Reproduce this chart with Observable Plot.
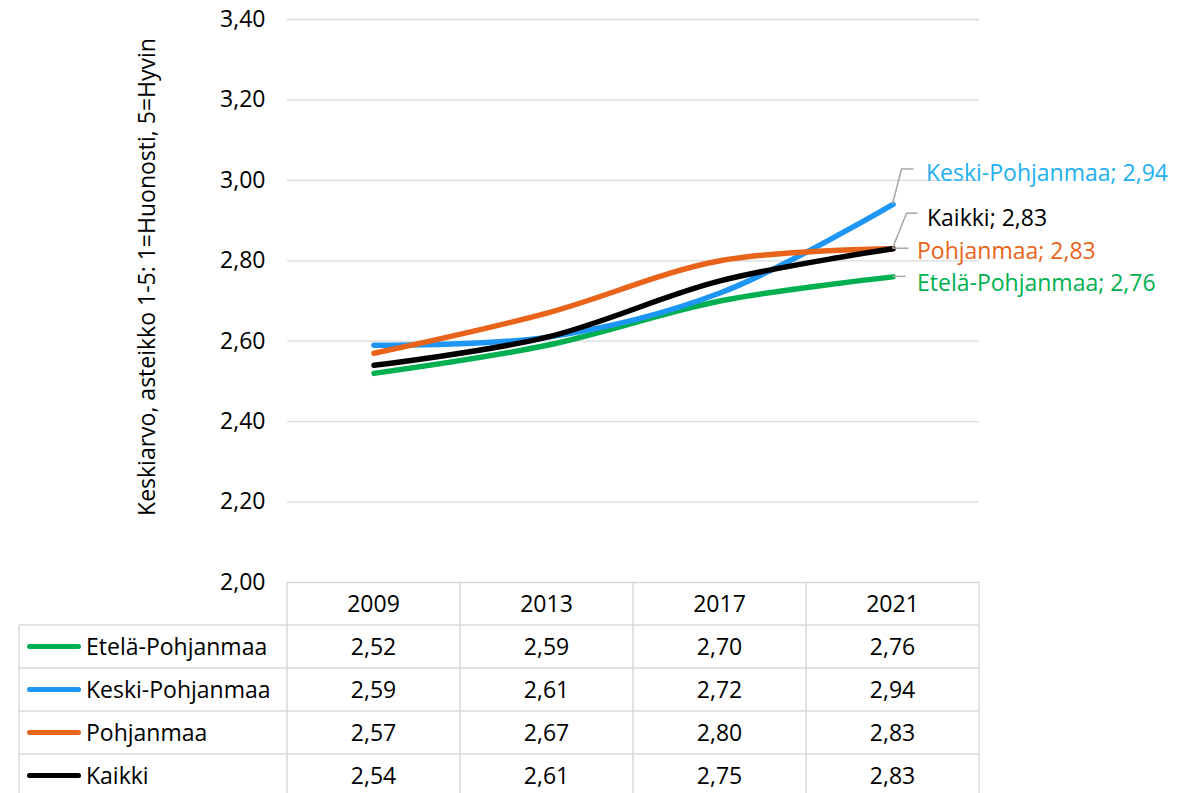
<!DOCTYPE html>
<html><head><meta charset="utf-8">
<script src="https://cdn.jsdelivr.net/npm/d3@7"></script>
<script src="https://cdn.jsdelivr.net/npm/@observablehq/plot@0.6"></script>
<style>body{margin:0;background:#fff} #chart svg{display:block}</style>
</head><body><div id="chart"></div>
<script>
const years = ["2009","2013","2017","2021"];
const seriesNames = ["Etelä-Pohjanmaa","Keski-Pohjanmaa","Pohjanmaa","Kaikki"];
const etelaPohjanmaa = [2.52,2.59,2.70,2.76];
const keskiPohjanmaa = [2.59,2.61,2.72,2.94];
const pohjanmaa = [2.57,2.67,2.80,2.83];
const kaikki = [2.54,2.61,2.75,2.83];
const seriesColors = ["#00b050","#1e96f5","#e8641b","#000000"];
const labelColors = ["#00b050","#22b0f0","#e8641b","#000000"];
const yTicks = [2.0,2.2,2.4,2.6,2.8,3.0,3.2,3.4];
const yLabel = "Keskiarvo, asteikko 1-5: 1=Huonosti, 5=Hyvin";

const values = [etelaPohjanmaa, keskiPohjanmaa, pohjanmaa, kaikki];
const fmt = v => v.toFixed(2).replace(".", ",");
const rows = [];
seriesNames.forEach((s, i) => years.forEach((yr, j) => rows.push({series: s, year: yr, value: values[i][j]})));
const ends = seriesNames.map((s, i) => ({series: s, year: years[years.length-1], value: values[i][values[i].length-1], color: labelColors[i]}));
// label placement offsets (style only)
const labelOffsets = {"Etelä-Pohjanmaa":[24,6.5], "Keski-Pohjanmaa":[33,-31], "Pohjanmaa":[24,2.5], "Kaikki":[34,-30]};
const leaderPaths = {"Etelä-Pohjanmaa":[[0,0],[13,0]], "Keski-Pohjanmaa":[[0,0],[9,-35],[21,-35]], "Pohjanmaa":[[0,0],[16,0]], "Kaikki":[[0,0],[14,-35],[25,-35]]};

const FONT = "'Open Sans', 'Noto Sans', sans-serif";
const FS = 23;
const grid = "#d9d9d9";

const chart = Plot.plot({
  width: 1199, height: 793,
  marginLeft: 287, marginRight: 220, marginTop: 19, marginBottom: 211,
  style: {fontFamily: FONT, fontSize: FS + "px", color: "#000", background: "#fff"},
  x: {type: "band", domain: years, padding: 0, axis: null},
  y: {domain: [2.0, 3.4], axis: null},
  color: {domain: seriesNames, range: seriesColors},
  marks: [
    Plot.ruleY(yTicks, {stroke: grid, strokeWidth: 1.3}),
    Plot.axisY({ticks: yTicks, tickFormat: fmt, tickSize: 0, tickPadding: 22, fontSize: FS, fill: "#000", label: null}),
    Plot.text([yLabel], {frameAnchor: "left", textAnchor: "middle", dx: -140, dy: -24, rotate: -90, fontSize: FS, fill: "#000"}),
    Plot.line(rows, {x: "year", y: "value", z: "series", stroke: "series", strokeWidth: 5.5, curve: "catmull-rom", strokeLinecap: "round"}),
    ...ends.map(e => Plot.text([e], {x: "year", y: "value", text: d => `${d.series}; ${fmt(d.value)}`, fill: e.color, textAnchor: "start", dx: labelOffsets[e.series][0], dy: labelOffsets[e.series][1], fontSize: FS}))
  ]
});
document.getElementById("chart").appendChild(chart);

// leader lines and data table, positioned through the chart's scales
const sx = chart.scale("x"), sy = chart.scale("y");
const bw = sx.bandwidth;
const svg = d3.select(chart);
ends.forEach(e => {
  const x0 = sx.apply(e.year) + bw/2, y0 = sy.apply(e.value);
  svg.append("path")
    .attr("d", d3.line()(leaderPaths[e.series].map(([dx, dy]) => [x0 + dx, y0 + dy])))
    .attr("fill", "none").attr("stroke", "#a6a6a6").attr("stroke-width", 1.5);
});

const tableTop = sy.apply(2.0);
const rowH = 43;
const firstX = sx.apply(years[0]);
const lastX = sx.apply(years[years.length-1]) + bw;
const legendLeft = firstX - 268;
const t = svg.append("g").attr("font-family", FONT).attr("font-size", FS).attr("fill", "#000");
const lineAttr = sel => sel.attr("stroke", grid).attr("stroke-width", 1.5);
// vertical lines
years.forEach(yr => lineAttr(t.append("line").attr("x1", sx.apply(yr)).attr("x2", sx.apply(yr)).attr("y1", tableTop).attr("y2", 800)));
lineAttr(t.append("line").attr("x1", lastX).attr("x2", lastX).attr("y1", tableTop).attr("y2", 800));
lineAttr(t.append("line").attr("x1", legendLeft).attr("x2", legendLeft).attr("y1", tableTop + rowH).attr("y2", 800));
// horizontal lines
seriesNames.forEach((s, i) => {
  const yy = tableTop + rowH * (i + 1);
  lineAttr(t.append("line").attr("x1", legendLeft).attr("x2", lastX).attr("y1", yy).attr("y2", yy));
});
// header
years.forEach(yr => t.append("text").attr("x", sx.apply(yr) + bw/2).attr("y", tableTop + rowH/2).attr("dy", "0.35em").attr("text-anchor", "middle").text(yr));
// rows
seriesNames.forEach((s, i) => {
  const cy = tableTop + rowH * (i + 1) + rowH/2;
  t.append("line").attr("x1", legendLeft + 10.5).attr("x2", legendLeft + 59.5).attr("y1", cy).attr("y2", cy)
    .attr("stroke", seriesColors[i]).attr("stroke-width", 5).attr("stroke-linecap", "round");
  t.append("text").attr("x", legendLeft + 67).attr("y", cy).attr("dy", "0.35em").attr("text-anchor", "start").text(s);
  years.forEach((yr, j) => t.append("text").attr("x", sx.apply(yr) + bw/2).attr("y", cy).attr("dy", "0.35em").attr("text-anchor", "middle").text(fmt(values[i][j])));
});
</script></body></html>
